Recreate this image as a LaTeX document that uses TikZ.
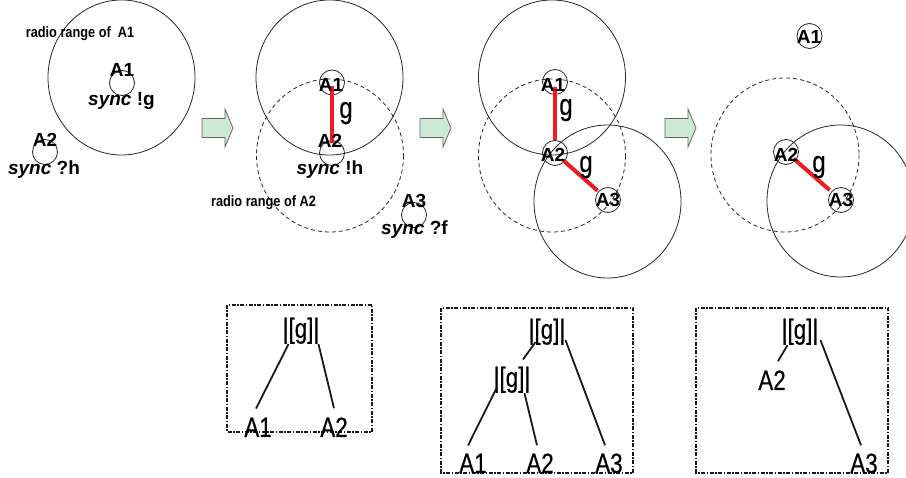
\documentclass[tikz,border=0pt]{standalone}
\usepackage{fontspec}
\setmainfont{Liberation Sans}
\newfontfamily\narrowfont[FakeStretch=0.8,FakeBold=0.4]{Liberation Sans}
\newfontfamily\rngfont[FakeStretch=0.85]{Liberation Sans}
\begin{document}
\begin{tikzpicture}[x=1pt,y=-1pt,
  lab/.style={font=\fontsize{19}{19}\selectfont\bfseries, inner sep=0pt, anchor=base},
  rng/.style={font=\rngfont\fontsize{15}{15}\selectfont\bfseries, inner sep=0pt, anchor=base},
  glab/.style={font=\narrowfont\fontsize{30}{30}\selectfont, inner sep=0pt, anchor=base},
  treelab/.style={font=\narrowfont\fontsize{28}{28}\selectfont, inner sep=0pt, anchor=base},
  agent/.style={circle, draw=black!85, line width=0.8pt, minimum size=25pt, inner sep=0pt},
  rangecirc/.style={draw=black!85, line width=0.8pt},
  dashrange/.style={rangecirc, dash pattern=on 4pt off 3pt},
  link/.style={draw={rgb,255:red,237;green,28;blue,36}, line width=4pt},
  treeline/.style={draw=black!90, line width=1.8pt},
  frame/.style={draw=black!90, line width=1.3pt, dash pattern=on 4pt off 1.5pt on 1.5pt off 1.5pt},
  pics/fatarrow/.style={code={
    \filldraw[fill={rgb,255:red,204;green,234;blue,212}, draw=black!60, line width=0.8pt]
      (0,-9.5) -- (23,-9.5) -- (23,-19) -- (31,0) -- (23,19) -- (23,9.5) -- (0,9.5) -- cycle;}}
]
\useasboundingbox (0,0) rectangle (906,478);

% ---------- Panel 1 ----------
\draw[rangecirc] (121.5,77.5) ellipse [x radius=73.5, y radius=77.5];
\node[agent] (p1a1) at (122,83) {};
\node[agent] (p1a2) at (45,152) {};
\node[rng] (p1rng) at (80,38) {radio range of\hspace{3.5pt} A1};
\node[lab] (p1t1) at (122,77) {A1};
\node[lab] (p1s1) at (121.5,106) {\textit{sync} !g};
\node[lab] (p1t2) at (45,147) {A2};
\node[lab] (p1s2) at (44,175) {\textit{sync} ?h};

\pic at (202,128) {fatarrow};

% ---------- Panel 2 ----------
\draw[rangecirc] (329.5,77.5) ellipse [x radius=73.5, y radius=77.5];
\draw[dashrange] (330,155.5) ellipse [x radius=73.5, y radius=76.5];
\node[agent] (p2a1) at (332,82.5) {};
\node[agent] (p2a2) at (332,153) {};
\node[agent] (p2a3) at (414,215) {};
\draw[link, shorten <=3.5pt, shorten >=10pt] (p2a1.center) -- (p2a2.center);
\node[lab] (p2t1) at (331,92) {A1};
\node[lab] (p2t2) at (330,148) {A2};
\node[lab] (p2s2) at (330,175) {\textit{sync} !h};
\node[glab] (p2g) at (346,118) {g};
\node[rng] (p2rng) at (263.5,207) {radio range of A2};
\node[lab] (p2t3) at (414,208) {A3};
\node[lab] (p2s3) at (414.5,235) {\textit{sync} ?f};

\pic at (420,128) {fatarrow};

% ---------- Panel 3 ----------
\draw[rangecirc] (552,77.5) ellipse [x radius=73.5, y radius=77.5];
\draw[dashrange] (552,155.5) ellipse [x radius=73.5, y radius=76.5];
\draw[rangecirc] (607.5,201.5) ellipse [x radius=73.5, y radius=76.5];
\node[agent] (p3a1) at (555,82) {};
\node[agent] (p3a2) at (555,153) {};
\node[agent] (p3a3) at (608,200) {};
\draw[link, shorten <=5pt, shorten >=13pt] (p3a1.center) -- (p3a2.center);
\draw[link, shorten <=11pt, shorten >=14pt] (p3a2.center) -- (p3a3.center);
\node[lab] (p3t1) at (553,92) {A1};
\node[lab] (p3t2) at (553,162) {A2};
\node[lab] (p3t3) at (608,207) {A3};
\node[glab] (p3g1) at (566,115) {g};
\node[glab] (p3g2) at (586,172) {g};

\pic at (665,128) {fatarrow};

% ---------- Panel 4 ----------
\draw[dashrange] (785,155) ellipse [x radius=74, y radius=77];
\draw[rangecirc] (840.5,201) ellipse [x radius=73.5, y radius=76];
\node[agent] (p4a1) at (809.5,36) {};
\node[agent] (p4a2) at (786,152) {};
\node[agent] (p4a3) at (841,200) {};
\draw[link, shorten <=10pt, shorten >=15pt] (p4a2.center) -- (p4a3.center);
\node[lab] (p4t1) at (809,44) {A1};
\node[lab] (p4t2) at (786,162) {A2};
\node[lab] (p4t3) at (841,207) {A3};
\node[glab] (p4g) at (819,172) {g};

% ---------- Tree 1 ----------
\draw[frame] (227,305) rectangle (372,432);
\node[treelab] (t1g) at (301,338) {|[g]|};
\node[treelab] (t1a1) at (258,437) {A1};
\node[treelab] (t1a2) at (334,437) {A2};
\draw[treeline] ([xshift=6pt]t1g.south west) -- ([xshift=-2pt,yshift=9pt]t1a1.north);
\draw[treeline] ([xshift=-1pt]t1g.south east) -- ([yshift=9pt]t1a2.north);

% ---------- Tree 2 ----------
\draw[frame] (441,308) rectangle (633,473);
\node[treelab] (t2g) at (547,339) {|[g]|};
\node[treelab] (t2h) at (512,387) {|[g]|};
\node[treelab] (t2a1) at (473,473) {A1};
\node[treelab] (t2a2) at (540,473) {A2};
\node[treelab] (t2a3) at (609,473) {A3};
\draw[treeline] ([xshift=7pt,yshift=3pt]t2g.south west) -- ([xshift=11pt,yshift=7pt]t2h.north);
\draw[treeline] ([yshift=5pt]t2g.south east) -- ([xshift=-4pt,yshift=8pt]t2a3.north);
\draw[treeline] ([xshift=3pt,yshift=5pt]t2h.south west) -- ([xshift=-5pt,yshift=8pt]t2a1.north);
\draw[treeline] ([xshift=-6pt]t2h.south east) -- ([xshift=-3pt,yshift=8pt]t2a2.north);

% ---------- Tree 3 ----------
\draw[frame] (696,308) rectangle (888,473);
\node[treelab] (t3g) at (800,339) {|[g]|};
\node[treelab] (t3a2) at (772,390) {A2};
\node[treelab] (t3a3) at (864,473) {A3};
\draw[treeline] ([xshift=6pt]t3g.south west) -- ([xshift=6pt,yshift=9pt]t3a2.north);
\draw[treeline] ([xshift=2pt,yshift=5pt]t3g.south east) -- ([xshift=-3pt,yshift=8pt]t3a3.north);
\end{tikzpicture}
\end{document}
